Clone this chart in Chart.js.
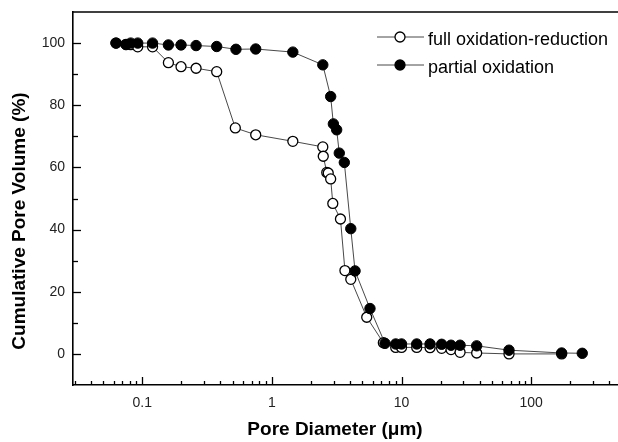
<!DOCTYPE html>
<html><head><meta charset="utf-8">
<script src="https://cdn.jsdelivr.net/npm/chart.js@4"></script>
<style>html,body{margin:0;padding:0;background:#fff}canvas{display:block}</style>
</head><body>
<canvas id="c" width="618" height="442"></canvas>
<script>
// ---- data ----
const seriesNames = ['full oxidation-reduction', 'partial oxidation'];
const openX = [0.0627, 0.0749, 0.0814, 0.0922, 0.120, 0.159, 0.199, 0.260, 0.375, 0.522, 0.750, 1.45, 2.47, 2.49, 2.65, 2.72, 2.84, 2.95, 3.38, 3.66, 4.06, 5.39, 7.24, 9.02, 10.0, 13.1, 16.6, 20.4, 24.1, 28.3, 38.0, 67.5, 172];
const openY = [100, 99.6, 99.5, 98.8, 98.8, 93.7, 92.4, 91.9, 90.8, 72.7, 70.5, 68.4, 66.6, 63.6, 58.4, 58.2, 56.3, 48.4, 43.4, 26.8, 24.0, 11.8, 3.6, 2.1, 2.1, 2.1, 2.0, 1.8, 1.4, 0.5, 0.3, 0.0, 0.0];
const filledX = [0.0627, 0.0749, 0.0814, 0.0922, 0.120, 0.159, 0.199, 0.260, 0.375, 0.528, 0.750, 1.45, 2.47, 2.84, 2.98, 3.16, 3.31, 3.62, 4.06, 4.38, 5.71, 7.46, 9.02, 10.0, 13.1, 16.6, 20.4, 24.1, 28.3, 38.0, 67.5, 172, 248];
const filledY = [100, 99.5, 100, 100, 100, 99.4, 99.4, 99.2, 98.9, 98.0, 98.1, 97.1, 93.0, 82.8, 74.0, 72.1, 64.6, 61.6, 40.3, 26.7, 14.6, 3.4, 3.2, 3.2, 3.2, 3.2, 3.1, 2.8, 2.8, 2.6, 1.2, 0.3, 0.2];
const xMajorTicks = [0.1, 1, 10, 100];
const yMajorTicks = [0, 20, 40, 60, 80, 100];
const yMinorTicks = [10, 30, 50, 70, 90];
const xTitle = 'Pore Diameter (\u03bcm)';
const yTitle = 'Cumulative Pore Volume (%)';

const FONT = '"Liberation Sans", Arial, Helvetica, sans-serif';
const toPts = (xs, ys) => xs.map((x, i) => ({x: x, y: ys[i]}));

const extras = {
  id: 'extras',
  afterDraw(chart) {
    const ctx = chart.ctx, ca = chart.chartArea;
    const xs = chart.scales.x, ys = chart.scales.y;
    ctx.save();
    ctx.strokeStyle = '#000';
    // top border
    ctx.lineWidth = 1.6;
    ctx.beginPath(); ctx.moveTo(ca.left, ca.top); ctx.lineTo(ca.right, ca.top); ctx.stroke();
    // inward tick marks
    ctx.lineWidth = 1.3;
    const xMinor = [];
    [0.01, 0.1, 1, 10, 100].forEach(d => { for (let k = 2; k <= 9; k++) xMinor.push(k * d); });
    const tick = (px, len, vertical) => {
      ctx.beginPath();
      if (vertical) { ctx.moveTo(px, ca.bottom); ctx.lineTo(px, ca.bottom - len); }
      else { ctx.moveTo(ca.left, px); ctx.lineTo(ca.left + len, px); }
      ctx.stroke();
    };
    xMinor.forEach(v => { if (v > xs.min && v < xs.max) tick(Math.round(xs.getPixelForValue(v)) + 0.5, 4, true); });
    xMajorTicks.forEach(v => tick(Math.round(xs.getPixelForValue(v)) + 0.5, 8, true));
    yMinorTicks.forEach(v => tick(Math.round(ys.getPixelForValue(v)) + 0.5, 5, false));
    yMajorTicks.forEach(v => tick(Math.round(ys.getPixelForValue(v)) + 0.5, 8, false));
    // axis titles
    ctx.fillStyle = '#000';
    ctx.font = 'bold 19px ' + FONT;
    ctx.textAlign = 'center'; ctx.textBaseline = 'middle';
    ctx.fillText(xTitle, 335, 430);
    ctx.save(); ctx.translate(20, 221); ctx.rotate(-Math.PI / 2);
    ctx.fillText(yTitle, 0, 0); ctx.restore();
    // legend
    const rows = [{y: 37, fill: '#fff', base: 45}, {y: 65, fill: '#000', base: 72.5}];
    ctx.font = '18px ' + FONT; ctx.textAlign = 'left'; ctx.textBaseline = 'alphabetic';
    rows.forEach((r, i) => {
      ctx.strokeStyle = '#333'; ctx.lineWidth = 0.9;
      ctx.beginPath(); ctx.moveTo(377, r.y); ctx.lineTo(424, r.y); ctx.stroke();
      ctx.beginPath(); ctx.arc(400, r.y, 5, 0, Math.PI * 2);
      ctx.fillStyle = r.fill; ctx.fill();
      ctx.strokeStyle = '#000'; ctx.lineWidth = 1.3; ctx.stroke();
      ctx.fillStyle = '#000';
      ctx.fillText(seriesNames[i], 428, r.base);
    });
    ctx.restore();
  }
};

new Chart(document.getElementById('c'), {
  type: 'line',
  data: {
    datasets: [
      { label: seriesNames[1], data: toPts(filledX, filledY), order: 0,
        borderColor: '#333', borderWidth: 0.9, backgroundColor: '#000',
        pointRadius: 5.2, pointBackgroundColor: '#000', pointBorderColor: '#000', pointBorderWidth: 1, tension: 0 },
      { label: seriesNames[0], data: toPts(openX, openY), order: 1,
        borderColor: '#333', borderWidth: 0.9, backgroundColor: '#fff',
        pointRadius: 5, pointBackgroundColor: '#fff', pointBorderColor: '#000', pointBorderWidth: 1.3, tension: 0 }
    ]
  },
  options: {
    responsive: false, animation: false, devicePixelRatio: 1,
    layout: { autoPadding: false, padding: { top: 12, right: 0, left: 0, bottom: 0 } },
    plugins: { legend: { display: false }, tooltip: { enabled: false } },
    scales: {
      x: {
        type: 'logarithmic', min: 0.0292, max: 468,
        afterBuildTicks: s => { s.ticks = xMajorTicks.map(v => ({ value: v })); },
        afterFit: s => { s.height = 57; s.paddingLeft = 0; s.paddingRight = 0; },
        grid: { display: false, drawTicks: false },
        border: { display: true, color: '#000', width: 1.6 },
        ticks: { padding: 10, color: '#222', autoSkip: false, maxRotation: 0, font: { family: FONT, size: 14 }, callback: v => String(v) }
      },
      y: {
        min: -10, max: 110,
        afterBuildTicks: s => { s.ticks = yMajorTicks.map(v => ({ value: v })); },
        afterFit: s => { s.width = 73; s.paddingTop = 0; s.paddingBottom = 0; },
        grid: { display: false, drawTicks: false },
        border: { display: true, color: '#000', width: 1.6 },
        ticks: { padding: 8, color: '#222', font: { family: FONT, size: 14 }, callback: v => String(v) }
      }
    }
  },
  plugins: [extras]
});
</script>
</body></html>
